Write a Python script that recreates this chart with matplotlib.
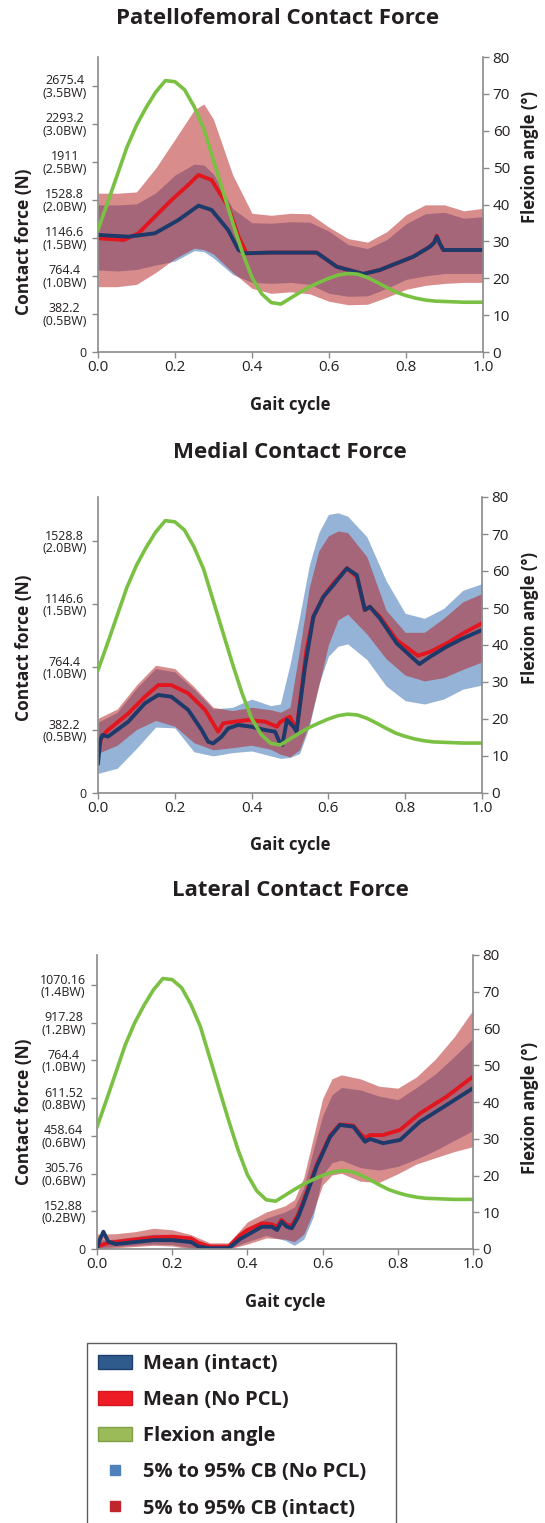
import numpy as np
import matplotlib
matplotlib.use('Agg')
import matplotlib.pyplot as plt
from matplotlib.patches import Patch
from matplotlib.lines import Line2D

plt.rcParams['font.family'] = ['Open Sans', 'DejaVu Sans']

W, H = 545, 1523

# flexion angle (deg), same curve in every panel, sampled every 2.5% of gait
flex_x = np.arange(41) * 0.025
flex_angle = [33.2, 40.5, 48, 55.5, 61.5, 66.3, 70.5, 73.6, 73.3, 71.1,
              66.5, 60.5, 52.0, 43.5, 35.0, 27.0, 20.2, 15.8, 13.4, 13.0,
              14.6, 16.2, 17.7, 18.9, 20.0, 20.9, 21.3, 21.1, 20.2, 18.9,
              17.5, 16.2, 15.3, 14.6, 14.1, 13.8, 13.7, 13.6, 13.5, 13.5, 13.5]

# ---- patellofemoral ----
pf_ticks = [0, 382.2, 764.4, 1146.6, 1528.8, 1911, 2293.2, 2675.4]
pf_labels = ['0', '382.2\n(0.5BW)', '764.4\n(1.0BW)', '1146.6\n(1.5BW)',
             '1528.8\n(2.0BW)', '1911\n(2.5BW)', '2293.2\n(3.0BW)', '2675.4\n(3.5BW)']
pf_band_x = [0, .05, .1, .15, .2, .25, .275, .3, .35, .4, .45, .5, .55, .6,
             .65, .7, .75, .8, .85, .9, .95, 1.0]
pf_intact_hi = [1597, 1597, 1610, 1850, 2140, 2435, 2495, 2340, 1780, 1395, 1375,
                1395, 1390, 1255, 1140, 1105, 1210, 1380, 1480, 1480, 1420, 1445]
pf_intact_lo = [657, 657, 680, 800, 940, 1045, 1030, 985, 800, 640, 590,
                605, 585, 510, 475, 480, 550, 630, 670, 690, 700, 700]
pf_nopcl_hi = [1479, 1479, 1490, 1600, 1780, 1890, 1880, 1790, 1440, 1300, 1295,
               1310, 1305, 1215, 1080, 1040, 1130, 1290, 1390, 1405, 1345, 1361]
pf_nopcl_lo = [825, 815, 830, 875, 915, 1020, 1010, 945, 780, 700, 690,
               700, 680, 590, 560, 565, 640, 730, 765, 790, 790, 790]
pf_mean_int_x = [0, 0.079, 0.148, 0.209, 0.261, 0.295, 0.338, 0.365, 0.382, 0.45,
                 0.568, 0.62, 0.689, 0.732, 0.819, 0.862, 0.873, 0.880, 0.888, 0.897, 1.0]
pf_mean_int = [1177, 1160, 1194, 1328, 1472, 1429, 1227, 1026, 993, 1000,
               1000, 858, 785, 825, 959, 1059, 1100, 1160, 1090, 1026, 1026]
pf_mean_nopcl_x = [0, 0.068, 0.105, 0.15, 0.191, 0.23, 0.261, 0.295, 0.338, 0.365,
                   0.386, 0.45, 0.568, 0.62, 0.689, 0.732, 0.819, 0.862, 0.873,
                   0.880, 0.888, 0.897, 1.0]
pf_mean_nopcl = [1144, 1127, 1194, 1370, 1529, 1665, 1781, 1730, 1462, 1160,
                 993, 1000, 1000, 858, 785, 825, 959, 1059, 1100, 1170, 1090, 1026, 1026]

# ---- medial ----
md_ticks = [0, 382.2, 764.4, 1146.6, 1528.8]
md_labels = ['0', '382.2\n(0.5BW)', '764.4\n(1.0BW)', '1146.6\n(1.5BW)', '1528.8\n(2.0BW)']
md_band_x = [0, .05, .1, .15, .2, .25, .3, .35, .4, .45, .475, .5, .525, .55,
             .575, .6, .625, .65, .7, .75, .8, .85, .9, .95, 1.0]
md_intact_hi = [453, 510, 655, 775, 755, 645, 520, 500, 520, 505, 490, 520, 870,
                1245, 1470, 1560, 1590, 1580, 1434, 1110, 975, 975, 1060, 1160, 1210]
md_intact_lo = [241, 290, 385, 440, 405, 305, 262, 275, 290, 265, 235, 220, 262,
                420, 650, 900, 1050, 1085, 965, 815, 715, 680, 700, 750, 795]
md_nopcl_hi = [430, 490, 635, 755, 735, 630, 510, 520, 570, 530, 540, 780, 1070,
               1380, 1580, 1690, 1700, 1680, 1555, 1290, 1090, 1060, 1120, 1230, 1270]
md_nopcl_lo = [119, 150, 270, 400, 395, 250, 225, 245, 255, 225, 210, 215, 240,
               400, 660, 830, 890, 905, 810, 650, 560, 540, 570, 630, 655]
md_mean_int_x = [0, 0.006, 0.012, 0.026, 0.079, 0.122, 0.157, 0.191, 0.235, 0.27,
                 0.287, 0.3, 0.322, 0.339, 0.365, 0.4, 0.435, 0.461, 0.474, 0.48,
                 0.492, 0.509, 0.517, 0.539, 0.561, 0.587, 0.613, 0.648, 0.674,
                 0.695, 0.708, 0.734, 0.778, 0.837, 0.865, 0.908, 0.951, 1.0]
md_mean_int = [180, 322, 352, 342, 433, 544, 595, 584, 504, 382,
               311, 301, 342, 392, 413, 402, 382, 372, 301, 291,
               443, 402, 372, 766, 1070, 1191, 1262, 1363, 1322,
               1110, 1130, 1060, 908, 782, 827, 888, 939, 989]
md_mean_nopcl_x = [0, 0.008, 0.018, 0.026, 0.079, 0.122, 0.157, 0.191, 0.235, 0.279,
                   0.305, 0.313, 0.326, 0.357, 0.391, 0.435, 0.466, 0.474, 0.491,
                   0.5, 0.517, 0.543, 0.561, 0.587, 0.613, 0.648, 0.674, 0.695,
                   0.708, 0.734, 0.778, 0.833, 0.865, 0.908, 0.951, 1.0]
md_mean_nopcl = [250, 330, 362, 382, 483, 584, 655, 655, 605, 504,
                 402, 372, 423, 433, 443, 433, 402, 430, 453,
                 463, 382, 868, 1070, 1191, 1272, 1363, 1312, 1110,
                 1130, 1070, 928, 833, 857, 908, 969, 1030]

# ---- lateral ----
lt_ticks = [0, 152.88, 305.76, 458.64, 611.52, 764.4, 917.28, 1070.16]
lt_labels = ['0', '152.88\n(0.2BW)', '305.76\n(0.6BW)', '458.64\n(0.6BW)',
             '611.52\n(0.8BW)', '764.4\n(1.0BW)', '917.28\n(1.2BW)', '1070.16\n(1.4BW)']
lt_band_x = [0, .05, .1, .15, .2, .25, .3, .35, .4, .45, .5, .525, .55, .575,
             .6, .625, .65, .7, .75, .8, .85, .9, .95, 1.0]
lt_intact_hi = [60, 62, 70, 84, 78, 58, 25, 25, 110, 150, 175, 200, 290, 450,
                610, 690, 706, 690, 660, 652, 698, 770, 860, 969]
lt_intact_lo = [0, 5, 10, 15, 12, 0, 0, 0, 20, 45, 40, 30, 60, 150,
                260, 300, 307, 275, 270, 305, 345, 370, 395, 415]
lt_nopcl_hi = [35, 40, 50, 60, 58, 40, 15, 15, 85, 125, 150, 170, 250, 400,
               540, 625, 655, 645, 620, 605, 655, 710, 780, 854]
lt_nopcl_lo = [5, 10, 15, 20, 18, 5, 0, 0, 30, 55, 35, 15, 40, 130,
               300, 350, 360, 330, 320, 335, 365, 400, 440, 480]
lt_mean_int_x = [0, 0.008, 0.017, 0.03, 0.05, 0.1, 0.15, 0.2, 0.25, 0.27, 0.3, 0.35,
                 0.38, 0.4, 0.438, 0.465, 0.479, 0.491, 0.505, 0.518, 0.535, 0.549,
                 0.584, 0.62, 0.646, 0.682, 0.699, 0.713, 0.726, 0.761, 0.806,
                 0.859, 0.93, 1.0]
lt_mean_int = [5, 40, 70, 30, 20, 28, 36, 36, 28, 10, 3, 3,
               40, 57, 90, 90, 77, 111, 90, 84, 130, 185,
               334, 455, 503, 496, 462, 435, 446, 429, 442,
               516, 584, 652]
lt_mean_nopcl_x = [0, 0.03, 0.1, 0.15, 0.2, 0.25, 0.27, 0.3, 0.35, 0.38, 0.4, 0.438,
                   0.465, 0.479, 0.491, 0.505, 0.518, 0.535, 0.549, 0.584, 0.62,
                   0.646, 0.682, 0.699, 0.713, 0.726, 0.761, 0.806, 0.859, 0.93, 1.0]
lt_mean_nopcl = [10, 25, 38, 47, 50, 43, 25, 10, 10, 55, 77, 104,
                 100, 90, 118, 98, 95, 140, 195, 340, 460,
                 505, 500, 470, 450, 462, 462, 483, 550, 618, 699]

GRAY = '#8a8a8a'
TXT = '#231f20'

fig = plt.figure(figsize=(W / 100, H / 100), dpi=100)


def px_rect(left, top, right, bottom):
    return [left / W, 1 - bottom / H, (right - left) / W, (bottom - top) / H]


def panel(rect, ymax, ticks, labels, bx, ilo, ihi, nlo, nhi, mix, mi, mnx, mn):
    ax = fig.add_axes(rect)
    ax.fill_between(bx, nlo, nhi, color='#4f81bd', alpha=0.6, lw=0)
    ax.fill_between(bx, ilo, ihi, color='#b31b1b', alpha=0.5, lw=0)
    ax.plot(mnx, mn, color='#e3161f', lw=2.8, solid_joinstyle='round')
    ax.plot(mix, mi, color='#1d3a6b', lw=2.8, solid_joinstyle='round')
    ax.set_xlim(0, 1)
    ax.set_ylim(0, ymax)
    ax.set_xticks([0, 0.2, 0.4, 0.6, 0.8, 1.0])
    ax.set_xticklabels(['0.0', '0.2', '0.4', '0.6', '0.8', '1.0'])
    ax.set_yticks(ticks)
    ax.set_yticklabels(labels)
    for t in ax.get_yticklabels():
        t.set_multialignment('center')
        t.set_linespacing(0.95)
    ax.tick_params(axis='y', labelsize=9, colors=GRAY, labelcolor=TXT, length=4, width=1, pad=4)
    ax.tick_params(axis='x', labelsize=11, colors=GRAY, labelcolor=TXT, length=4, width=1, pad=2)
    for s in ['top', 'right']:
        ax.spines[s].set_visible(False)
    for s in ['left', 'bottom']:
        ax.spines[s].set_color(GRAY)
        ax.spines[s].set_linewidth(1.2)

    ax2 = ax.twinx()
    ax2.plot(flex_x, flex_angle, color='#7ac143', lw=2.6)
    ax2.set_ylim(0, 80)
    ax2.set_yticks(range(0, 81, 10))
    ax2.tick_params(axis='y', labelsize=11, colors=GRAY, labelcolor=TXT, length=4, width=1, pad=3)
    for s in ['top', 'left', 'bottom']:
        ax2.spines[s].set_visible(False)
    ax2.spines['right'].set_color(GRAY)
    ax2.spines['right'].set_linewidth(1.2)
    return ax


def ftext(x, y, s, **kw):
    fig.text(x / W, 1 - y / H, s, ha='center', va='center', color=TXT, **kw)


panel(px_rect(98, 57, 483, 352), 2967, pf_ticks, pf_labels, pf_band_x,
      pf_intact_lo, pf_intact_hi, pf_nopcl_lo, pf_nopcl_hi,
      pf_mean_int_x, pf_mean_int, pf_mean_nopcl_x, pf_mean_nopcl)
panel(px_rect(98, 497, 482, 793), 1796, md_ticks, md_labels, md_band_x,
      md_intact_lo, md_intact_hi, md_nopcl_lo, md_nopcl_hi,
      md_mean_int_x, md_mean_int, md_mean_nopcl_x, md_mean_nopcl)
panel(px_rect(97, 955, 473, 1249), 1192, lt_ticks, lt_labels, lt_band_x,
      lt_intact_lo, lt_intact_hi, lt_nopcl_lo, lt_nopcl_hi,
      lt_mean_int_x, lt_mean_int, lt_mean_nopcl_x, lt_mean_nopcl)

# titles and axis labels
ftext(278, 19, 'Patellofemoral Contact Force', fontsize=16, fontweight='bold')
ftext(290, 453, 'Medial Contact Force', fontsize=16, fontweight='bold')
ftext(290, 890, 'Lateral Contact Force', fontsize=16, fontweight='bold')
for yc in [242, 648, 1112]:
    ftext(24, yc, 'Contact force (N)', fontsize=12.5, fontweight='bold', rotation=90)
for yc in [157, 618, 1108]:
    ftext(530, yc, 'Flexion angle (°)', fontsize=12, fontweight='bold', rotation=90)
for xc, yc in [(290, 405), (290, 845), (285, 1302)]:
    ftext(xc, yc, 'Gait cycle', fontsize=12, fontweight='bold')

# legend (bottom edge runs off the figure as in the source)
handles = [
    Patch(facecolor='#2e5a8c', edgecolor='#1f3f6e', lw=1),
    Patch(facecolor='#ee1c25', edgecolor='#d01820', lw=1),
    Patch(facecolor='#9bbb59', edgecolor='#80a048', lw=1),
    Line2D([], [], marker='s', ls='none', markersize=7, color='#4f81bd'),
    Line2D([], [], marker='s', ls='none', markersize=7, color='#c0272d'),
]
labels = ['Mean (intact)', 'Mean (No PCL)', 'Flexion angle',
          '5% to 95% CB (No PCL)', '5% to 95% CB (intact)']
leg = fig.legend(handles, labels, loc='upper left',
                 bbox_to_anchor=(87 / W, 0, 309 / W, 1 - 1343 / H), mode='expand',
                 borderaxespad=0, fancybox=False, frameon=True,
                 prop={'weight': 'bold', 'size': 14.5},
                 handlelength=1.7, handleheight=0.7, handletextpad=0.55,
                 labelspacing=0.8, borderpad=0.55)
leg.get_frame().set_edgecolor('#333333')
leg.get_frame().set_linewidth(1.0)
for t in leg.get_texts():
    t.set_color(TXT)

fig.savefig('out.png', dpi=100)
